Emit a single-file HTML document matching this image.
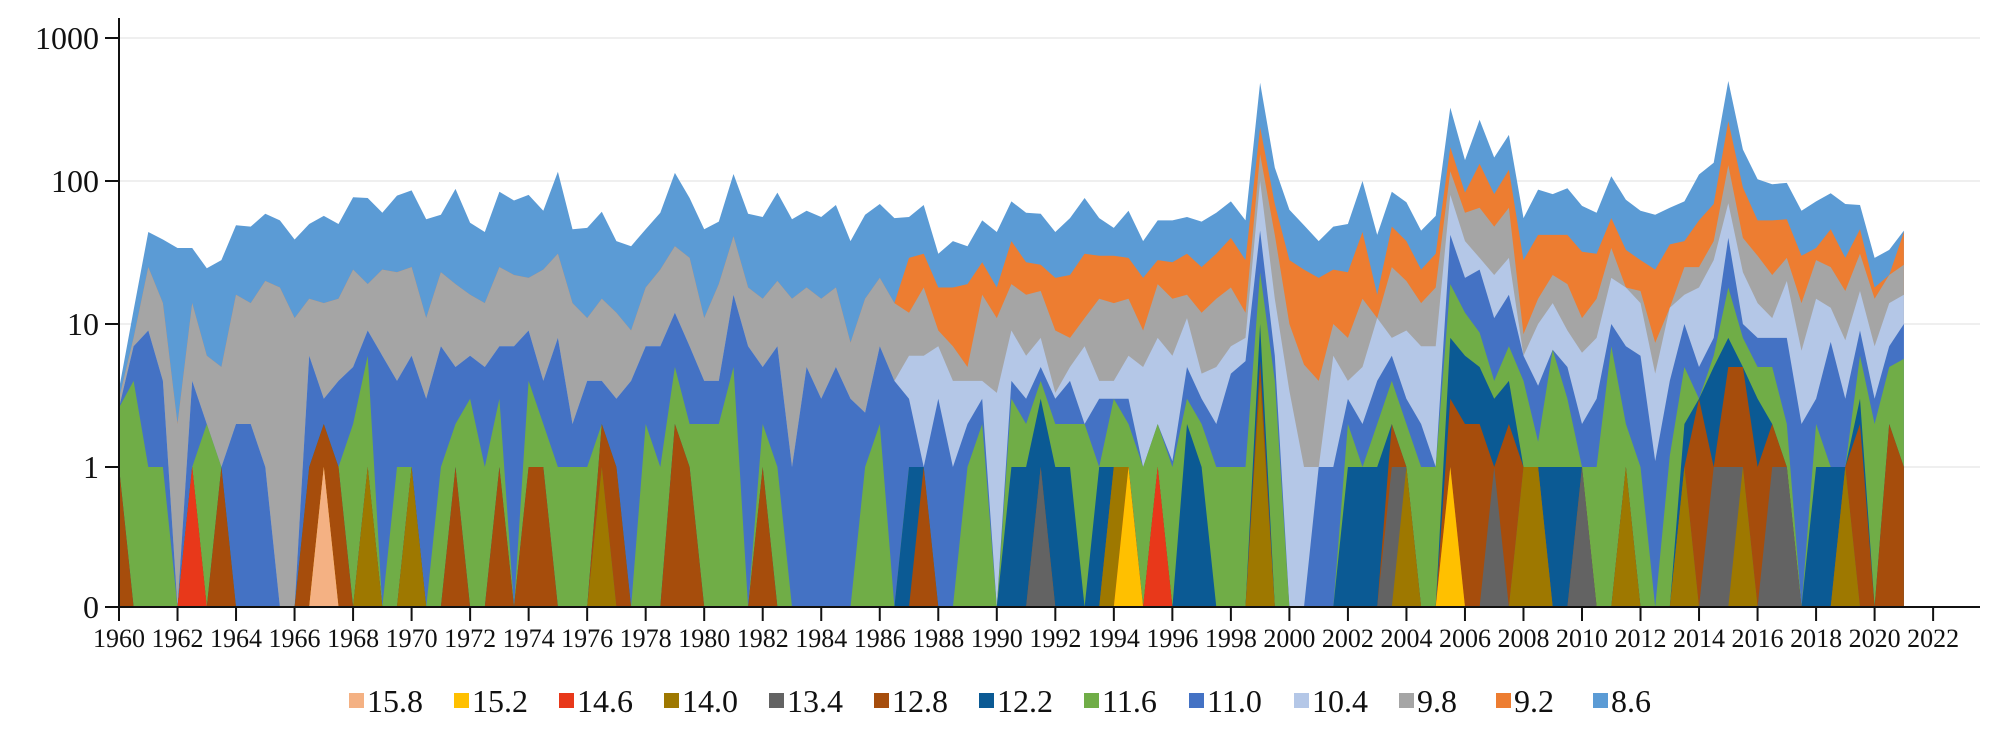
<!DOCTYPE html>
<html><head><meta charset="utf-8"><style>
html,body{margin:0;padding:0;background:#fff;}
svg{display:block;font-family:"Liberation Serif",serif;}
</style></head><body>
<svg id="chart" width="1994" height="729" viewBox="0 0 1994 729" xmlns="http://www.w3.org/2000/svg">
<g id="grid"></g>
<g id="areas"></g>
<g id="axes"></g>
<g id="legend"></g>
</svg>
<script>
// ---- data (cumulative stack tops, half-year steps from 1960) ----
const startYear = 1960;
const stepYears = 0.5;
const seriesNames = ["15.8","15.2","14.6","14.0","13.4","12.8","12.2","11.6","11.0","10.4","9.8","9.2","8.6"];
const seriesColors = ["#f4b183","#ffc000","#e8381a","#9e7800","#636363","#a64d0c","#0b5a94","#70ad47","#4472c4","#b4c7e7","#a5a5a5","#ed7d31","#5b9bd5"];
const yTicks = [0,1,10,100,1000];
const xTicks = [1960,1962,1964,1966,1968,1970,1972,1974,1976,1978,1980,1982,1984,1986,1988,1990,1992,1994,1996,1998,2000,2002,2004,2006,2008,2010,2012,2014,2016,2018,2020,2022];

const s86 = [3.5,12.5,44,39,34,34,24.5,28,49,48,59,53,39,50,57,50,77,76,60,79,86,54,58,88,51,
44,84,73,80,62,116,46,47,61,38,35,46,60,114,76,46,52,112,59,56,83,54,62,56,68,
38,58,69,55,56,68,31,38,35,53,44,72,60,59,44,55,76,55,47,62,38,53,53,56,52,
60,72,53,487,124,63,49,38,48,50,100,42,84,71,45,57,326,140,268,146,210,55,87,
81,89,67,60,108,74,62,58,65,72,111,134,500,166,103,95,97,62,72,82,69,68,29,33,45];
const s92 = [0,0,0,0,0,0,0,0,0,0,0,0,0,0,0,0,0,0,0,0,0,0,0,0,0,
0,0,0,0,0,0,0,0,0,0,0,0,0,0,0,0,0,0,0,0,0,0,0,0,0,
0,0,0,14,29,31,18,18,19,27,18,38,27,26,21,22,31,30,30,29,21,28,27,31,25,
31,40,28,238,69,28,24,21,24,23,44,16,48,38,24,31,172,83,132,81,120,28,42,
42,42,32,31,55,33,28,24,36,38,53,69,262,90,53,53,54,30,34,46,29,46,18,22,44];
const s98 = [3,8,25,14,2,14,6,5,16,14,20,18,11,15,14,15,24,19,24,23,25,11,23,19,16,
14,25,22,21,24,31,14,11,15,12,9,18,24,35,29,11,19,41,18,15,20,15,18,15,18,
7.4,15,21,14,12,18,9,7,5,16,11,19,16,17,9,8,11,15,14,15,9,19,15,16,12,
15,18,12,154,42,10,5.2,4,10,8,15,8.4,25,20,14,18,117,60,65,48,65,8.5,15,
22,19,11,15,34,18,17,7.4,13,25,25,38,129,40,30,22,29,14,28,25,17,31,15,22,26];
const s104 = [0,0,0,0,0,0,0,0,0,0,0,0,0,0,0,0,0,0,0,0,0,0,0,0,0,
0,0,0,0,0,0,0,0,0,0,0,0,0,0,0,0,0,0,0,0,0,0,0,0,0,
0,0,0,4,6,6,7,4,4,4,3.3,9,6,8,3.3,5,7,4,4,6,5,8,6,11,4.5,
5,7,8,100,15,3.4,1,1,6,4,5,11,8,9,7,7,80,38,29,22,29,6,10,
14,9,6.3,8,21,18,14,4.5,13,16,18,28,70,23,14,11,20,6.5,15,13,7.7,17,7,14,16];
const s110 = [2.5,7,9,4,0,4,1.5,1,2,2,1,0,0,6,3,4,5,9,6,4,6,3,7,5,6,
5,7,7,9,4,8,2,4,4,3,4,7,7,12,7,4,4,16,7,5,7,1,5,3,5,
3,2.4,7,4,3,1,3,1,2,3,0,4,3,5,3,4,2,3,3,3,1,2,1.1,5,3,
2,4.5,5.5,45,6,0,0,1,1,3,2,4,6,3,2,1,42,21,24,11,16,6,3.7,
6.6,5,2,3,10,7,6,1.1,4,10,5,8,40,10,8,8,8,2,3,7.5,3,9,3,7,10];
const s116 = [2.6,4,1,1,0,1,2,1,0,0,0,0,0,0,0,1,2,6,0,1,1,0,1,2,3,
1,3,0,4,2,1,1,1,2,0,0,2,1,5,2,2,2,5,0,2,1,0,0,0,0,
0,1,2,0,0,0,0,0,1,2,0,3,2,4,2,2,2,1,3,2,1,2,1,3,2,
1,1,1,23,4,0,0,0,0,2,1,2,4,2,1,1,19,12,8.7,4,7,4,1.5,
6.6,3,1,1,7,2,1,0,1.2,5,3,6,18,8,5,5,2,0,2,1,1,6,2,5,5.7];
const s122 = [0,0,0,0,0,0,0,0,0,0,0,0,0,0,0,0,0,0,0,0,0,0,0,0,0,
0,0,0,0,0,0,0,0,0,0,0,0,0,0,0,0,0,0,0,0,0,0,0,0,0,
0,0,0,0,1,1,0,0,0,0,0,1,1,3,1,1,0,1,1,0,0,0,0,2,1,
0,0,0,10,0,0,0,0,0,1,1,1,1,1,0,0,8,6,5,3,4,0,0,
1,1,0,0,0,0,0,0,0,2,3,5,8,5,3,2,0,0,1,1,1,3,0,0,0];
const s128 = [1,0,0,0,0,0,0,1,0,0,0,0,0,1,2,1,0,0,0,0,0,0,0,1,0,
0,1,0,1,1,0,0,0,2,1,0,0,0,2,1,0,0,0,0,1,0,0,0,0,0,
0,0,0,0,0,1,0,0,0,0,0,0,0,0,0,0,0,0,0,0,0,0,0,0,0,
0,0,0,5.5,0,0,0,0,0,0,0,0,2,0,0,0,3,2,2,1,2,0,0,
0,0,0,0,0,0,0,0,0,0,3,1,5,5,1,2,0,0,0,0,0,2,0,2,1];
const s134 = [0,0,0,0,0,0,0,0,0,0,0,0,0,0,0,0,0,0,0,0,0,0,0,0,0,
0,0,0,0,0,0,0,0,0,0,0,0,0,0,0,0,0,0,0,0,0,0,0,0,0,
0,0,0,0,0,0,0,0,0,0,0,0,0,1,0,0,0,0,0,0,0,0,0,0,0,
0,0,0,3,0,0,0,0,0,0,0,0,1,1,0,0,0,0,0,1,0,0,0,
0,0,1,0,0,0,0,0,0,0,0,1,1,1,0,1,1,0,0,0,0,0,0,0,0];
const s140 = [0,0,0,0,0,0,0,0,0,0,0,0,0,0,0,0,0,1,0,0,1,0,0,0,0,
0,0,0,0,0,0,0,0,1,0,0,0,0,0,0,0,0,0,0,0,0,0,0,0,0,
0,0,0,0,0,0,0,0,0,0,0,0,0,0,0,0,0,0,1,0,0,0,0,0,0,
0,0,0,4,0,0,0,0,0,0,0,0,0,1,0,0,0,0,0,0,0,1,1,
0,0,0,0,0,1,0,0,0,1,0,0,0,1,0,0,0,0,0,0,1,0,0,0,0];
const s146 = [0,0,0,0,0,1,0,0,0,0,0,0,0,0,0,0,0,0,0,0,0,0,0,0,0,
0,0,0,0,0,0,0,0,0,0,0,0,0,0,0,0,0,0,0,0,0,0,0,0,0,
0,0,0,0,0,0,0,0,0,0,0,0,0,0,0,0,0,0,0,0,0,1,0,0,0,
0,0,0,0,0,0,0,0,0,0,0,0,0,0,0,0,1,0,0,0,0,0,0,
0,0,0,0,0,0,0,0,0,0,0,0,0,0,0,0,0,0,0,0,0,0,0,0,0];
const s152 = [0,0,0,0,0,0,0,0,0,0,0,0,0,0,0,0,0,0,0,0,0,0,0,0,0,
0,0,0,0,0,0,0,0,0,0,0,0,0,0,0,0,0,0,0,0,0,0,0,0,0,
0,0,0,0,0,0,0,0,0,0,0,0,0,0,0,0,0,0,0,1,0,0,0,0,0,
0,0,0,0,0,0,0,0,0,0,0,0,0,0,0,0,1,0,0,0,0,0,0,
0,0,0,0,0,0,0,0,0,0,0,0,0,0,0,0,0,0,0,0,0,0,0,0,0];
const s158 = [0,0,0,0,0,0,0,0,0,0,0,0,0,0,1,0,0,0,0,0,0,0,0,0,0,
0,0,0,0,0,0,0,0,0,0,0,0,0,0,0,0,0,0,0,0,0,0,0,0,0,
0,0,0,0,0,0,0,0,0,0,0,0,0,0,0,0,0,0,0,0,0,0,0,0,0,
0,0,0,0,0,0,0,0,0,0,0,0,0,0,0,0,0,0,0,0,0,0,0,
0,0,0,0,0,0,0,0,0,0,0,0,0,0,0,0,0,0,0,0,0,0,0,0,0];

// ---- scales ----
const NS = "http://www.w3.org/2000/svg";
const X0 = 119, PX_PER_YEAR = 29.26;
const Y_ONE = 467, PX_PER_DECADE = 143, Y_ZERO = 607;
function xScale(year){ return X0 + (year - 1960) * PX_PER_YEAR; }
function yScale(v){ if (v <= 0) return Y_ZERO; return Math.min(Y_ZERO, Y_ONE - PX_PER_DECADE * Math.log10(v)); }
function mk(tag, attrs){ const e = document.createElementNS(NS, tag); for (const k in attrs) e.setAttribute(k, attrs[k]); return e; }

const layers = [s158,s152,s146,s140,s134,s128,s122,s116,s110,s104,s98,s92,s86];
const N = s86.length;
const years = [];
for (let i = 0; i < N; i++) years.push(startYear + i * stepYears);

const cum = [];
for (let L = 0; L < layers.length; L++) {
  cum.push(layers[L].map((v, i) => L === 0 ? v : Math.max(v, cum[L-1][i])));
}

const grid = document.getElementById('grid');
yTicks.forEach(t => {
  if (t <= 0) return;
  const gl = mk('line', {x1: X0, x2: 1980, y1: yScale(t), y2: yScale(t), stroke: '#efefef', 'stroke-width': 2});
  
  
  grid.appendChild(gl);
});

const areas = document.getElementById('areas');
for (let L = layers.length - 1; L >= 0; L--) {
  let d = 'M' + xScale(years[0]) + ',' + Y_ZERO;
  for (let i = 0; i < N; i++) d += ' L' + xScale(years[i]).toFixed(1) + ',' + yScale(cum[L][i]).toFixed(1);
  d += ' L' + xScale(years[N-1]).toFixed(1) + ',' + Y_ZERO + ' Z';
  const p = mk('path', {d: d, fill: seriesColors[L]});
  
  
  areas.appendChild(p);
}

const axes = document.getElementById('axes');
const yAxisLine = mk('line', {x1: X0, x2: X0, y1: 18, y2: Y_ZERO, stroke: '#111', 'stroke-width': 2});


axes.appendChild(yAxisLine);
const xAxisLine = mk('line', {x1: X0, x2: 1980, y1: Y_ZERO, y2: Y_ZERO, stroke: '#111', 'stroke-width': 2});


axes.appendChild(xAxisLine);
yTicks.forEach(t => {
  const y = yScale(t);
  const tk = mk('line', {x1: 105, x2: X0, y1: y, y2: y, stroke: '#111', 'stroke-width': 2});
  
  
  axes.appendChild(tk);
  const tx = mk('text', {x: 99, y: y + 11, 'text-anchor': 'end', 'font-size': 32, fill: '#111'});
  tx.textContent = String(t);
  
  
  axes.appendChild(tx);
});
xTicks.forEach(t => {
  const x = xScale(t);
  const tk = mk('line', {x1: x, x2: x, y1: Y_ZERO, y2: 621, stroke: '#111', 'stroke-width': 2});
  
  
  axes.appendChild(tk);
  const tx = mk('text', {x: x, y: 647, 'text-anchor': 'middle', 'font-size': 26, fill: '#111'});
  tx.textContent = String(t);
  
  
  axes.appendChild(tx);
});

const legend = document.getElementById('legend');
let lx = 349;
seriesNames.forEach((name, k) => {
  const g = mk('g', {});
  
  
  const sw = mk('rect', {x: lx, y: 693, width: 15, height: 15, fill: seriesColors[k]});
  
  
  g.appendChild(sw);
  const tx = mk('text', {x: lx + 18, y: 712, 'font-size': 32, fill: '#111'});
  tx.textContent = name;
  
  
  g.appendChild(tx);
  legend.appendChild(g);
  lx += name.length >= 4 ? 105 : 97;
});
</script>
</body></html>
